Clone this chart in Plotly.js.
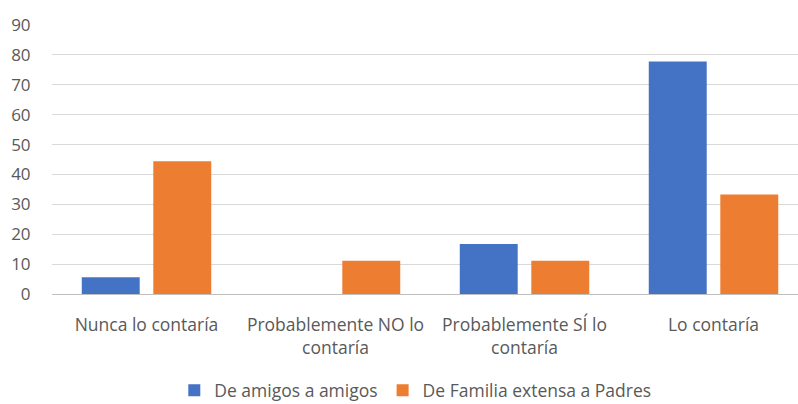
<!DOCTYPE html>
<html>
<head>
<meta charset="utf-8">
<script src="https://cdn.plot.ly/plotly-3.0.1.min.js"></script>
<style>html,body{margin:0;padding:0;background:#fff;}#chart{width:798px;height:404px;}</style>
</head>
<body>
<div id="chart"></div>
<script>
var categories = ["Nunca lo contaría", "Probablemente NO lo<br>contaría", "Probablemente SÍ lo<br>contaría", "Lo contaría"];
var seriesNames = ["De amigos a amigos", "De Familia extensa a Padres"];
var amigos = [5.6, 0, 16.7, 77.8];
var familia = [44.4, 11.1, 11.1, 33.3];
var yTicks = [0, 10, 20, 30, 40, 50, 60, 70, 80, 90];

var font = "Open Sans, Liberation Sans, sans-serif";
var grey = "#595959";

var traces = [
  {type: "bar", name: seriesNames[0], x: categories, y: amigos, marker: {color: "#4472C4"}, hoverinfo: "none"},
  {type: "bar", name: seriesNames[1], x: categories, y: familia, marker: {color: "#ED7D31"}, hoverinfo: "none"}
];

var layout = {
  width: 798, height: 404,
  margin: {l: 52, r: 0, t: 25, b: 110},
  paper_bgcolor: "#ffffff", plot_bgcolor: "#ffffff",
  barmode: "group", bargap: 0.243, bargroupgap: 0.19,
  showlegend: true,
  legend: {orientation: "h", x: 0.487, xanchor: "center", yref: "container", y: 0.034, yanchor: "middle",
           font: {family: font, size: 17.5, color: grey}, itemwidth: 30, tracegroupgap: 0},
  xaxis: {range: [-0.5, 3.447], showgrid: false, showline: false, zeroline: false,
          ticks: "outside", ticklen: 15, tickcolor: "rgba(0,0,0,0)",
          tickfont: {family: font, size: 17.5, color: grey}, fixedrange: true},
  yaxis: {range: [0, 90], tickvals: yTicks, showgrid: true, gridcolor: "#d9d9d9", gridwidth: 1,
          zeroline: true, zerolinecolor: "#bfbfbf", zerolinewidth: 1, showline: false,
          ticks: "outside", ticklen: 17, tickcolor: "rgba(0,0,0,0)",
          tickfont: {family: font, size: 17, color: grey}, fixedrange: true}
};

Plotly.newPlot("chart", traces, layout, {displayModeBar: false, staticPlot: true});
</script>
</body>
</html>
